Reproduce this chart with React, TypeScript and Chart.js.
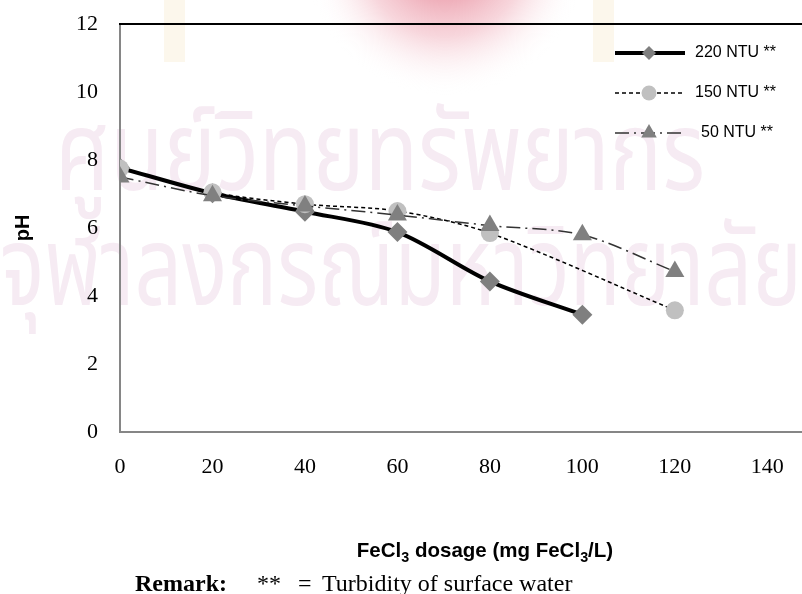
import React, { useEffect, useRef } from 'react';
import { Chart, registerables } from 'chart.js';
import { drawPoint } from 'chart.js/helpers';

Chart.register(...registerables);

// ---- data ----
const doses220 = [0, 20, 40, 60, 80, 100];
const ph220 = [7.77, 7.02, 6.48, 5.88, 4.43, 3.45];

const doses150 = [0, 20, 40, 60, 80, 120];
const ph150 = [7.75, 7.05, 6.7, 6.5, 5.85, 3.58];

const doses50 = [0, 20, 40, 60, 80, 100, 120];
const ph50 = [7.5, 6.95, 6.65, 6.38, 6.07, 5.8, 4.72];

const seriesNames = ['220 NTU **', '150 NTU **', '50 NTU **'];
const xTickMax = 140;
const xStep = 20;
const yMin = 0;
const yMax = 12;
const yStep = 2;

const watermarkLines = ['ศูนย์วิทยทรัพยากร', 'จุฬาลงกรณ์มหาวิทยาลัย'];

const toPoints = (xs: number[], ys: number[]) => xs.map((x, i) => ({ x, y: ys[i] }));

const legendItems = [
  { text: seriesNames[0], dash: [] as number[], lineWidth: 4, lineColor: '#000', pointStyle: 'rectRot', radius: 7, fill: '#7f7f7f', textX: 695 },
  { text: seriesNames[1], dash: [4, 3], lineWidth: 1.5, lineColor: '#000', pointStyle: 'circle', radius: 7.5, fill: '#c0c0c0', textX: 695 },
  { text: seriesNames[2], dash: [14, 5, 2, 5], lineWidth: 1.5, lineColor: '#333', pointStyle: 'triangle', radius: 9, fill: '#808080', textX: 701 },
];

const watermarkPlugin = {
  id: 'watermark',
  beforeDraw(chart: any) {
    const ctx = chart.ctx;
    ctx.save();
    // faint logo at the top
    const g = ctx.createRadialGradient(445, -45, 10, 445, -45, 140);
    g.addColorStop(0, 'rgba(210, 40, 70, 0.6)');
    g.addColorStop(0.55, 'rgba(230, 120, 140, 0.3)');
    g.addColorStop(1, 'rgba(255, 255, 255, 0)');
    ctx.fillStyle = g;
    ctx.fillRect(250, 0, 400, 100);
    ctx.fillStyle = 'rgba(245, 232, 200, 0.35)';
    ctx.fillRect(164, 0, 21, 62);
    ctx.fillRect(593, 0, 21, 62);

    ctx.fillStyle = '#f6ebf3';
    ctx.textBaseline = 'alphabetic';
    ctx.font = '110px "Noto Sans Thai", "Loma", "Garuda", "Norasi", "Waree", sans-serif';
    ctx.fillText(watermarkLines[0], 55, 190, 650);
    ctx.fillText(watermarkLines[1], 0, 305, 802);
    ctx.restore();
  },
};

const framePlugin = {
  id: 'frameAndLegend',
  afterDraw(chart: any) {
    const { ctx, chartArea } = chart;
    ctx.save();
    // top border
    ctx.strokeStyle = '#000';
    ctx.lineWidth = 2;
    ctx.beginPath();
    ctx.moveTo(chartArea.left - 1, chartArea.top);
    ctx.lineTo(chartArea.right, chartArea.top);
    ctx.stroke();

    // legend
    const x0 = 615;
    const x1 = 685;
    const xm = 649;
    legendItems.forEach((it, i) => {
      const y = 53 + i * 40;
      ctx.setLineDash(it.dash);
      ctx.strokeStyle = it.lineColor;
      ctx.lineWidth = it.lineWidth;
      ctx.beginPath();
      ctx.moveTo(x0, y);
      ctx.lineTo(x1, y);
      ctx.stroke();
      ctx.setLineDash([]);
      ctx.fillStyle = it.fill;
      ctx.strokeStyle = it.fill;
      drawPoint(ctx, { pointStyle: it.pointStyle as any, radius: it.radius, rotation: 0, borderWidth: 0 }, xm, y);
      ctx.fillStyle = '#000';
      ctx.font = '16px "Liberation Sans", Arial, sans-serif';
      ctx.textBaseline = 'middle';
      ctx.textAlign = 'left';
      ctx.fillText(it.text, it.textX, y);
    });
    ctx.restore();
  },
};

export default function App() {
  const ref = useRef<HTMLCanvasElement | null>(null);

  useEffect(() => {
    if (!ref.current) return;
    const chart = new Chart(ref.current, {
      type: 'line',
      data: {
        datasets: [
          {
            label: seriesNames[0],
            data: toPoints(doses220, ph220),
            borderColor: '#000',
            borderWidth: 4,
            tension: 0.3,
            pointStyle: 'rectRot',
            pointRadius: 10,
            pointBackgroundColor: '#7f7f7f',
            pointBorderColor: '#7f7f7f',
            pointBorderWidth: 0,
            order: 3,
          },
          {
            label: seriesNames[1],
            data: toPoints(doses150, ph150),
            borderColor: '#000',
            borderWidth: 1.5,
            borderDash: [4, 3],
            tension: 0.3,
            pointStyle: 'circle',
            pointRadius: 9,
            pointBackgroundColor: '#c0c0c0',
            pointBorderColor: '#c0c0c0',
            pointBorderWidth: 0,
            order: 2,
          },
          {
            label: seriesNames[2],
            data: toPoints(doses50, ph50),
            borderColor: '#333',
            borderWidth: 1.5,
            borderDash: [14, 5, 2, 5],
            tension: 0.3,
            pointStyle: 'triangle',
            pointRadius: 11,
            pointBackgroundColor: '#808080',
            pointBorderColor: '#808080',
            pointBorderWidth: 0,
            order: 1,
          },
        ],
      },
      options: {
        responsive: false,
        animation: false,
        layout: { autoPadding: false, padding: { top: 24, right: 0, bottom: 0, left: 0 } },
        plugins: {
          legend: { display: false },
          tooltip: { enabled: false },
        },
        scales: {
          x: {
            type: 'linear',
            min: 0,
            max: 147.5,
            grid: { display: false, drawTicks: false },
            border: { display: true, color: '#868686', width: 2 },
            ticks: {
              stepSize: xStep,
              includeBounds: false,
              padding: 11,
              color: '#000',
              font: { family: '"Liberation Serif", "Times New Roman", serif', size: 22, lineHeight: 2.2 },
              callback: (v: any) => (Number(v) <= xTickMax ? String(v) : ''),
            },
            afterFit: (scale: any) => {
              scale.height = 594 - 24 - 408;
              scale.paddingLeft = 0;
              scale.paddingRight = 0;
            },
          },
          y: {
            type: 'linear',
            min: yMin,
            max: yMax,
            grid: { display: false, drawTicks: false },
            border: { display: true, color: '#868686', width: 2 },
            ticks: {
              stepSize: yStep,
              padding: 22,
              color: '#000',
              font: { family: '"Liberation Serif", "Times New Roman", serif', size: 22 },
            },
            title: {
              display: true,
              text: 'pH',
              color: '#000',
              padding: { top: 11, bottom: 0 },
              font: { family: '"Liberation Sans", Arial, sans-serif', size: 20, weight: 'bold' },
            },
            afterFit: (scale: any) => {
              scale.width = 120;
              scale.paddingTop = 0;
              scale.paddingBottom = 0;
            },
          },
        },
      },
      plugins: [watermarkPlugin, framePlugin],
    } as any);
    return () => chart.destroy();
  }, []);

  return (
    <div style={{ position: 'absolute', left: 0, top: 0, width: 802, height: 594, overflow: 'hidden', background: '#fff' }}>
      <canvas ref={ref} width={802} height={594} style={{ position: 'absolute', left: 0, top: 0 }} />
      <div
        style={{
          position: 'absolute',
          left: 485,
          top: 540,
          transform: 'translateX(-50%)',
          font: 'bold 20.5px "Liberation Sans", Arial, sans-serif',
          lineHeight: '20px',
          whiteSpace: 'nowrap',
          color: '#000',
        }}
      >
        FeCl<sub style={{ lineHeight: 0, fontSize: '0.7em' }}>3</sub> dosage (mg FeCl<sub style={{ lineHeight: 0, fontSize: '0.7em' }}>3</sub>/L)
      </div>
      <div
        style={{
          position: 'absolute',
          left: 0,
          top: 571,
          width: 802,
          height: 24,
          font: '24px "Liberation Serif", "Times New Roman", serif',
          lineHeight: '24px',
          color: '#000',
          whiteSpace: 'nowrap',
        }}
      >
        <span style={{ position: 'absolute', left: 135, fontWeight: 'bold' }}>Remark:</span>
        <span style={{ position: 'absolute', left: 257 }}>**</span>
        <span style={{ position: 'absolute', left: 298 }}>=</span>
        <span style={{ position: 'absolute', left: 322 }}>Turbidity of surface water</span>
      </div>
    </div>
  );
}
